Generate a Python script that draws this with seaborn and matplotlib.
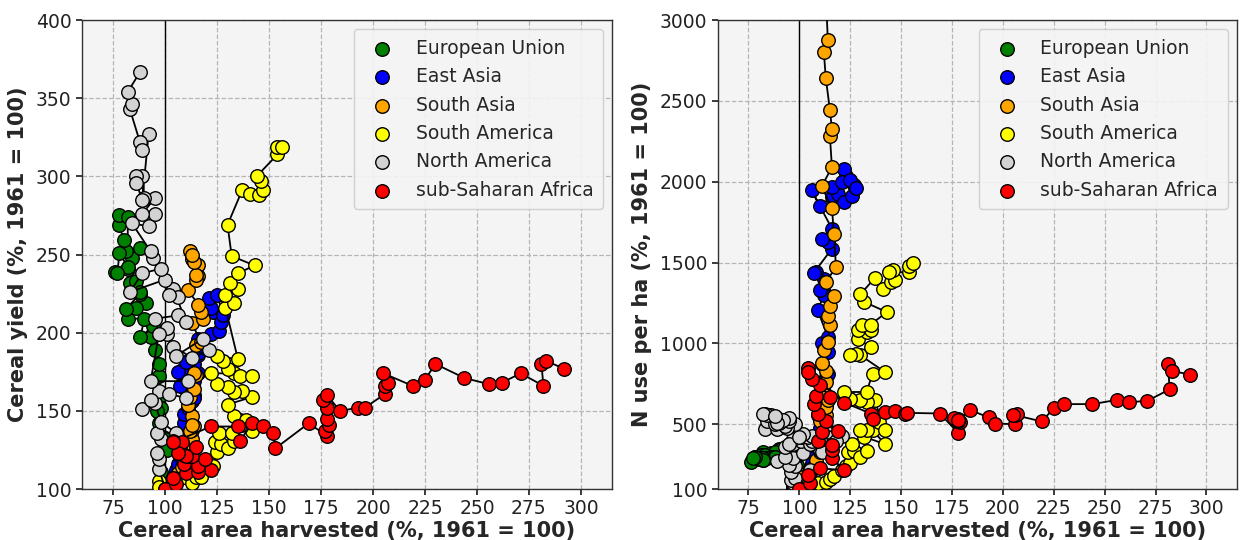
import matplotlib
matplotlib.use("Agg")
import matplotlib.pyplot as plt
import numpy as np
import pandas as pd
import seaborn as sns

# ---------------- data ----------------
regions = ["European Union", "East Asia", "South Asia", "South America",
           "North America", "sub-Saharan Africa"]
colors = ["green", "blue", "orange", "yellow", "lightgray", "red"]
x_ticks = [75, 100, 125, 150, 175, 200, 225, 250, 275, 300]
yield_ticks = [100, 150, 200, 250, 300, 350, 400]
n_ticks = [100, 500, 1000, 1500, 2000, 2500, 3000]

eu_area = [100, 99, 98, 101, 99, 97, 98, 96, 98, 97, 97, 95, 93, 94, 88, 90, 82, 91, 86, 81,
           88, 83, 86, 88, 82, 76, 84, 88, 81, 80, 78, 78, 82, 82, 78, 77]
eu_yield = [100, 106, 111, 125, 133, 142, 152, 150, 160, 172, 180, 189, 197, 204, 197, 209, 209, 219, 216, 215,
            225, 232, 233, 226, 241, 239, 248, 254, 252, 259, 269, 275, 274, 242, 251, 238]
eu_n = [100, 150, 190, 220, 250, 270, 290, 300, 310, 320, 330, 325, 340, 335, 320, 345, 330, 350, 320, 310,
        330, 310, 300, 290, 280, 270, 290, 300, 290, 285, 300, 295, 290, 280, 300, 290]

ea_area = [100, 102, 104, 105, 106, 107, 108, 110, 109, 109, 111, 113, 114, 111, 114, 111, 114, 109, 112, 110,
           112, 108, 107, 116, 114, 111, 116, 106, 110, 116, 119, 116, 122, 126, 127, 123, 122, 121, 125, 128]
ea_yield = [100, 103, 108, 112, 116, 121, 128, 136, 142, 148, 152, 156, 160, 163, 158, 166, 169, 172, 174, 176,
            172, 176, 166, 174, 180, 182, 186, 175, 181, 187, 190, 196, 199, 201, 207, 213, 216, 222, 224, 211]
ea_n = [100, 120, 160, 200, 260, 330, 400, 480, 560, 650, 731, 793, 814, 876, 948, 1000, 1040, 1205, 1298, 1328,
        1400, 1441, 1435, 1586, 1627, 1648, 1710, 1946, 1853, 1905, 1926, 1966, 1874, 1915, 1977, 2038, 2080, 2000, 2010, 1960]

sa_area = [100, 102, 104, 103, 106, 108, 110, 111, 112, 113, 110, 113, 113, 114, 112, 113, 113, 111, 112, 114,
           115, 114, 115, 117, 113, 118, 117, 116, 111, 116, 115, 116, 115, 113, 112, 114, 113]
sa_yield = [100, 103, 106, 104, 110, 114, 118, 121, 125, 129, 125, 132, 138, 140, 137, 147, 141, 154, 159, 164,
            173, 174, 192, 194, 206, 209, 213, 218, 227, 236, 234, 243, 237, 247, 252, 245, 250]
sa_n = [100, 130, 160, 200, 230, 280, 330, 380, 430, 480, 520, 560, 608, 650, 700, 760, 830, 880, 958, 1010,
        1112, 1168, 1230, 1291, 1380, 1472, 1678, 1837, 1972, 2090, 2285, 2327, 2444, 2641, 2805, 2875, 3150]

sam_area = [100, 97, 97, 109, 113, 115, 117, 121, 123, 125, 124, 127, 130, 133, 126, 132, 142, 136, 133, 139,
            130, 142, 137, 133, 130, 125, 122, 133, 136, 142, 130, 128, 125, 135, 129, 133, 129, 135, 131, 135,
            143, 132, 130, 137, 141, 145, 147, 146, 144, 154, 154, 156]
sam_yield = [100, 105, 101, 108, 104, 108, 108, 114, 115, 124, 130, 129, 126, 131, 136, 136, 137, 144, 147, 144,
             154, 159, 163, 162, 165, 167, 174, 174, 172, 172, 177, 182, 185, 183, 216, 219, 224, 228, 232, 238,
             243, 249, 269, 291, 289, 288, 291, 297, 300, 314, 319, 319]
sam_n = [100, 108, 120, 135, 145, 160, 180, 220, 242, 260, 330, 336, 300, 336, 378, 422, 378, 464, 468, 515,
         464, 468, 649, 639, 653, 659, 700, 700, 814, 824, 927, 933, 927, 978, 1026, 1071, 1081, 1086, 1117, 1117,
         1194, 1256, 1304, 1404, 1339, 1380, 1394, 1452, 1441, 1441, 1480, 1497]

na_area = [100, 97, 97, 96, 98, 96, 105, 98, 95, 89, 97, 93, 102, 110, 111, 93, 97, 101, 104, 113,
           121, 118, 105, 101, 97, 95, 106, 110, 104, 106, 102, 100, 83, 89, 98, 94, 93, 84, 92, 95,
           89, 95, 90, 89, 86, 86, 89, 92, 88, 89, 83, 84, 82, 88]
na_yield = [100, 113, 119, 123, 132, 136, 136, 143, 155, 151, 163, 157, 161, 158, 169, 169, 199, 199, 191, 184,
            189, 196, 185, 203, 199, 209, 211, 207, 228, 223, 224, 234, 226, 238, 241, 248, 252, 270, 268, 276,
            276, 286, 286, 300, 300, 296, 285, 327, 322, 317, 343, 346, 354, 367]
na_n = [100, 125, 135, 155, 170, 207, 217, 240, 250, 275, 290, 300, 320, 341, 330, 361, 381, 400, 420, 450,
        430, 400, 380, 420, 410, 380, 400, 402, 420, 430, 440, 423, 470, 474, 500, 480, 490, 520, 526, 520,
        526, 540, 510, 530, 550, 560, 540, 526, 500, 510, 567, 560, 567, 550]

ssa_area = [100, 105, 104, 110, 122, 116, 116, 116, 109, 111, 119, 113, 109, 107, 108, 115, 110, 106, 104, 104,
            122, 135, 136, 142, 147, 152, 153, 169, 178, 177, 179, 178, 178, 176, 178, 184, 193, 196, 206, 206,
            207, 205, 219, 225, 230, 244, 256, 262, 271, 282, 281, 283, 292]
ssa_yield = [100, 103, 107, 110, 112, 111, 116, 115, 116, 121, 119, 121, 122, 127, 130, 127, 121, 123, 131, 130,
             140, 140, 131, 142, 140, 136, 126, 142, 134, 137, 141, 145, 152, 157, 160, 150, 152, 152, 161, 166,
             168, 174, 166, 170, 180, 171, 167, 168, 174, 166, 180, 182, 177]
ssa_n = [100, 135, 186, 228, 217, 290, 341, 371, 398, 454, 460, 522, 567, 625, 676, 670, 742, 783, 851, 824,
         635, 567, 536, 577, 583, 567, 571, 567, 448, 526, 515, 520, 530, 540, 525, 588, 543, 505, 501, 557,
         567, 560, 518, 598, 625, 625, 651, 637, 645, 717, 876, 830, 808]

areas = [eu_area, ea_area, sa_area, sam_area, na_area, ssa_area]
yields = [eu_yield, ea_yield, sa_yield, sam_yield, na_yield, ssa_yield]
nuse = [eu_n, ea_n, sa_n, sam_n, na_n, ssa_n]

# ---------------- style ----------------
sns.set_theme(style="whitegrid")
plt.rcParams.update({
    "axes.facecolor": "#f4f4f4",
    "axes.edgecolor": "#333333",
    "axes.linewidth": 1.0,
    "grid.color": "#b5b5b5",
    "grid.linestyle": "--",
    "grid.linewidth": 0.9,
    "xtick.bottom": True,
    "ytick.left": True,
    "xtick.color": "#222222",
    "ytick.color": "#222222",
    "xtick.major.size": 4,
    "ytick.major.size": 4,
})
plt.rcParams["font.family"] = ["DejaVu Sans"]

fig = plt.figure(figsize=(12.43, 5.40), dpi=100)
ax1 = fig.add_axes([0.066, 0.0944, 0.4264, 0.8685])
ax2 = fig.add_axes([0.5776, 0.0944, 0.4175, 0.8685])


def draw(ax, values_list, ylim, yticks, ylabel):
    ax.axvline(100, color="black", lw=1.0, zorder=1.5)
    for k, (name, col) in enumerate(zip(regions, colors)):
        df = pd.DataFrame({"area": areas[k], "val": values_list[k]})
        sns.lineplot(data=df, x="area", y="val", sort=False, estimator=None,
                     color="black", lw=1.3, ax=ax, zorder=2 + 2 * k)
        sns.scatterplot(data=df, x="area", y="val", color=col, edgecolor="black",
                        linewidth=1.0, s=95, ax=ax, label=name, zorder=3 + 2 * k)
    ax.set_xlim(60, 315)
    ax.set_ylim(*ylim)
    ax.set_xticks(x_ticks)
    ax.set_yticks(yticks)
    ax.tick_params(labelsize=13.5)
    ax.set_xlabel("Cereal area harvested (%, 1961 = 100)", fontsize=15,
                  fontweight="bold", labelpad=2)
    ax.set_ylabel(ylabel, fontsize=15, fontweight="bold", labelpad=6)
    ax.grid(True, zorder=0)
    ax.set_axisbelow(True)
    leg = ax.legend(loc="upper right", fontsize=13.5, frameon=True,
                    framealpha=0.9, borderpad=0.5)
    leg.set_zorder(50)


draw(ax1, yields, (100, 400), yield_ticks, "Cereal yield (%, 1961 = 100)")
draw(ax2, nuse, (100, 3000), n_ticks, "N use per ha (%, 1961 = 100)")

fig.savefig("out.png", dpi=100)
